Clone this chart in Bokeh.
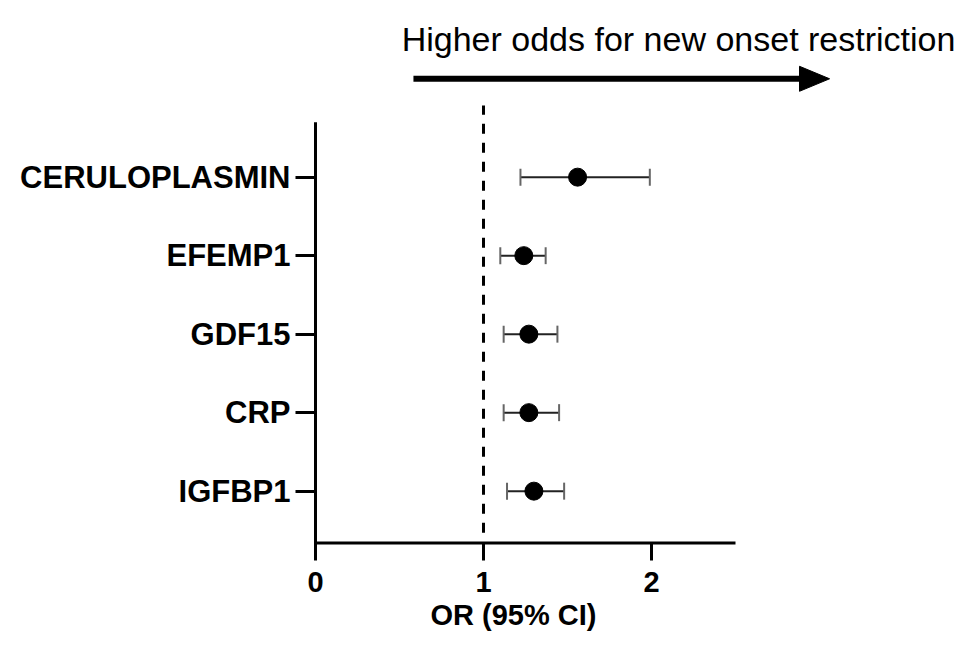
from bokeh.plotting import figure
from bokeh.models import Range1d, FixedTicker, Title
from bokeh.embed import file_html
from bokeh.resources import INLINE
from bokeh.core.properties import value
import math

# ---- data ----
markers = ["CERULOPLASMIN", "EFEMP1", "GDF15", "CRP", "IGFBP1"]
odds = [1.56, 1.24, 1.27, 1.27, 1.30]
ci_low = [1.22, 1.10, 1.12, 1.12, 1.14]
ci_high = [1.99, 1.37, 1.44, 1.45, 1.48]
x_ticks = [0, 1, 2]
ref_line = 1.0
direction_text = "Higher odds for new onset restriction"
x_title = "OR (95% CI)"

ypos = [len(markers) - i for i in range(len(markers))]

# ---- geometry (pixels per unit) ----
PX_X = 168.0
PX_Y = 78.5
Y_AX0 = 0.338   # bottom of drawn y-axis
Y_AX1 = 5.70    # top of drawn y-axis
X_AX1 = 2.5     # right end of drawn x-axis

W, H = 963, 637
LEFT = 313
BOTTOM_PX = 545
x0 = -(315 - LEFT) / PX_X
x1 = x0 + (W - LEFT) / PX_X
y1 = Y_AX1 + 121.7 / PX_Y
y0 = y1 - BOTTOM_PX / PX_Y

p = figure(width=W, height=H, output_backend="svg", toolbar_location=None,
           x_range=Range1d(x0, x1), y_range=Range1d(y0, y1),
           min_border_left=LEFT, min_border_right=0, min_border_top=0,
           min_border_bottom=H - BOTTOM_PX)
p.outline_line_color = None
p.grid.visible = False

# axis lines (drawn so they can stop where the original stops)
p.segment(x0=[0], y0=[Y_AX0], x1=[0], y1=[Y_AX1], line_color="black", line_width=3)
p.segment(x0=[0], y0=[Y_AX0], x1=[X_AX1], y1=[Y_AX0], line_color="black", line_width=3)

# reference dashed line
p.segment(x0=[ref_line], y0=[0.47], x1=[ref_line], y1=[5.913],
          line_color="black", line_width=3, line_dash="10 9")

# error bars
p.segment(x0=ci_low, y0=ypos, x1=ci_high, y1=ypos, line_color="#222222", line_width=2)
p.scatter(x=ci_low, y=ypos, marker="dash", angle=math.pi / 2, size=17,
          line_color="#666666", line_width=2)
p.scatter(x=ci_high, y=ypos, marker="dash", angle=math.pi / 2, size=17,
          line_color="#666666", line_width=2)
p.scatter(x=odds, y=ypos, size=18, fill_color="black", line_color="black")

# direction arrow + text
arr_y = 6.253
arr_x0, arr_base, arr_tip = 0.583, 2.881, 3.060
half_h = 12.5 / PX_Y
p.segment(x0=[arr_x0], y0=[arr_y], x1=[arr_base + 0.01], y1=[arr_y],
          line_color="black", line_width=6)
p.patch(x=[arr_base, arr_tip, arr_base], y=[arr_y + half_h, arr_y, arr_y - half_h],
        fill_color="black", line_color="black", line_width=1)
p.text(x=[2.161], y=[y1 - 38 / PX_Y], text=[direction_text], text_font=value("Liberation Sans"),
       text_font_size="34px", text_align="center", text_baseline="alphabetic",
       text_color="black")

# axes
p.xaxis.ticker = FixedTicker(ticks=x_ticks)
p.yaxis.ticker = FixedTicker(ticks=ypos)
p.yaxis.major_label_overrides = {y: m for y, m in zip(ypos, markers)}
for ax in (p.xaxis[0], p.yaxis[0]):
    ax.axis_line_color = None
    ax.major_tick_line_width = 3
    ax.major_tick_line_color = "black"
    ax.major_tick_in = 3
    ax.minor_tick_line_color = None
    ax.major_label_text_font = "Liberation Sans"
    ax.major_label_text_font_style = "bold"
    ax.major_label_text_color = "black"
p.yaxis.major_tick_out = 18
p.yaxis.major_label_standoff = 5
p.yaxis.major_label_text_font_size = "31px"
p.xaxis.major_tick_out = 15
p.xaxis.major_label_standoff = 11
p.xaxis.major_label_text_font_size = "29px"

p.add_layout(Title(text=x_title, align="left", offset=430 - LEFT, standoff=4,
                   text_font="Liberation Sans", text_font_style="bold",
                   text_font_size="29px", text_color="black"), "below")

open("out.html", "w").write(file_html(p, INLINE))
